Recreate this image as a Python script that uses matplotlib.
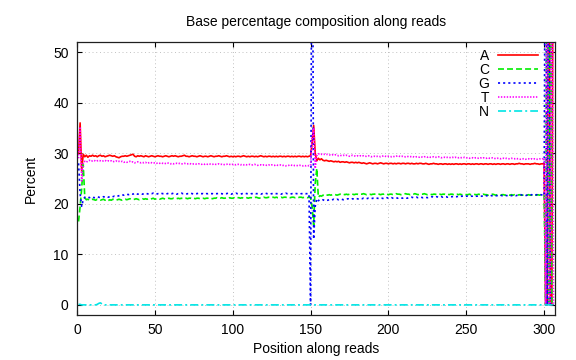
import matplotlib
matplotlib.use("Agg")
import matplotlib.pyplot as plt

plt.rcParams['font.family'] = ['Liberation Sans', 'DejaVu Sans']
plt.rcParams['lines.scale_dashes'] = False

# percent of each base at read positions 1..306 (read 1: 1-150, read 2: 151-300, index: 301-306)
A = [
    30.0, 36.0, 26.5, 29.8, 29.3, 29.6, 29.2, 29.5, 29.4, 29.6,
    29.4, 29.5, 29.3, 29.5, 29.6, 29.4, 29.5, 29.3, 29.4, 29.5,
    29.6, 29.5, 29.4, 29.5, 29.3, 29.2, 29.1, 29.3, 29.4, 29.4,
    29.5, 29.4, 29.5, 29.6, 29.7, 29.8, 29.4, 29.3, 29.5, 29.4,
    29.5, 29.4, 29.3, 29.5, 29.4, 29.3, 29.4, 29.5, 29.4, 29.3,
    29.4, 29.5, 29.4, 29.4, 29.3, 29.4, 29.5, 29.4, 29.3, 29.4,
    29.5, 29.4, 29.5, 29.4, 29.3, 29.4, 29.4, 29.5, 29.6, 29.4,
    29.4, 29.3, 29.4, 29.5, 29.4, 29.4, 29.3, 29.4, 29.5, 29.4,
    29.3, 29.4, 29.4, 29.3, 29.4, 29.5, 29.4, 29.3, 29.4, 29.4,
    29.5, 29.4, 29.3, 29.4, 29.4, 29.5, 29.4, 29.3, 29.4, 29.3,
    29.4, 29.3, 29.4, 29.4, 29.3, 29.4, 29.5, 29.4, 29.3, 29.4,
    29.3, 29.4, 29.4, 29.3, 29.4, 29.3, 29.4, 29.5, 29.4, 29.3,
    29.4, 29.3, 29.4, 29.4, 29.3, 29.4, 29.3, 29.4, 29.3, 29.4,
    29.4, 29.3, 29.4, 29.3, 29.4, 29.4, 29.3, 29.4, 29.3, 29.4,
    29.3, 29.4, 29.4, 29.3, 29.4, 29.3, 29.4, 29.3, 29.4, 29.5,
    32.0, 35.5, 30.0, 28.5, 29.0, 28.7, 28.9, 28.6, 28.5, 28.6,
    28.5, 28.4, 28.5, 28.4, 28.3, 28.4, 28.3, 28.4, 28.2, 28.3,
    28.3, 28.2, 28.3, 28.2, 28.1, 28.2, 28.2, 28.1, 28.2, 28.1,
    28.2, 28.1, 28.0, 28.1, 28.0, 27.9, 28.0, 28.1, 28.0, 27.9,
    28.0, 28.0, 27.9, 28.0, 28.1, 28.0, 27.9, 28.0, 28.0, 27.9,
    28.0, 28.0, 27.9, 28.0, 27.9, 28.0, 28.0, 27.9, 28.0, 28.0,
    27.9, 28.0, 28.0, 27.9, 28.0, 27.9, 27.9, 28.0, 27.9, 28.0,
    28.0, 27.9, 27.9, 28.0, 27.9, 27.8, 27.9, 27.9, 28.0, 27.9,
    27.9, 27.8, 27.9, 27.9, 27.8, 27.9, 27.9, 27.8, 27.9, 27.8,
    27.9, 27.8, 27.9, 27.9, 27.8, 27.9, 27.8, 27.9, 27.9, 27.8,
    27.9, 27.9, 27.8, 27.9, 27.8, 27.9, 27.9, 27.8, 27.9, 27.9,
    27.8, 27.9, 27.9, 27.8, 27.9, 27.9, 27.8, 27.9, 27.8, 27.9,
    27.9, 27.8, 27.9, 27.9, 27.8, 27.9, 27.9, 27.8, 27.9, 27.9,
    27.8, 27.9, 27.9, 28.0, 27.9, 27.9, 27.8, 27.9, 27.9, 27.9,
    27.8, 27.9, 27.9, 28.0, 27.9, 27.9, 27.8, 27.9, 27.9, 28.0,
    0.0, 0.0, 100.0, 0.0, 0.0, 100.0,
]

C = [
    16.5, 19.5, 23.0, 27.8, 21.2, 20.8, 20.9, 20.7, 20.8, 20.9,
    20.8, 20.7, 20.9, 20.8, 20.7, 20.8, 20.9, 20.7, 20.8, 20.6,
    20.8, 20.7, 20.9, 20.8, 20.7, 20.8, 20.9, 20.8, 20.7, 20.8,
    20.9, 20.8, 20.9, 21.0, 20.9, 20.8, 20.9, 21.0, 20.9, 20.8,
    20.9, 21.0, 20.9, 21.0, 20.9, 21.0, 20.9, 21.0, 21.1, 20.9,
    21.0, 21.0, 20.9, 21.0, 21.1, 21.0, 20.9, 21.0, 21.1, 21.0,
    21.0, 21.1, 21.0, 21.0, 21.1, 21.0, 21.1, 21.0, 21.0, 21.1,
    21.0, 21.1, 21.1, 21.0, 21.1, 21.0, 21.1, 21.1, 21.0, 21.1,
    21.1, 21.0, 21.1, 21.1, 21.2, 21.1, 21.0, 21.1, 21.1, 21.2,
    21.1, 21.1, 21.2, 21.1, 21.1, 21.2, 21.1, 21.2, 21.1, 21.1,
    21.2, 21.1, 21.2, 21.2, 21.1, 21.2, 21.1, 21.2, 21.2, 21.1,
    21.2, 21.2, 21.1, 21.2, 21.3, 21.2, 21.1, 21.2, 21.2, 21.3,
    21.2, 21.2, 21.3, 21.2, 21.2, 21.3, 21.2, 21.3, 21.2, 21.2,
    21.3, 21.2, 21.3, 21.3, 21.2, 21.3, 21.2, 21.3, 21.3, 21.2,
    21.3, 21.2, 21.3, 21.3, 21.2, 21.3, 21.3, 21.2, 21.3, 21.2,
    19.5, 15.8, 24.0, 27.0, 21.3, 21.6, 21.5, 21.7, 21.6, 21.8,
    21.7, 21.8, 21.7, 21.8, 21.9, 21.8, 21.7, 21.8, 21.9, 21.8,
    21.9, 21.8, 21.9, 21.8, 21.9, 22.0, 21.9, 21.8, 21.9, 21.9,
    21.8, 21.9, 21.9, 22.0, 21.9, 21.8, 21.9, 21.9, 21.8, 21.9,
    21.9, 22.0, 21.9, 21.9, 21.8, 21.9, 21.9, 22.0, 21.9, 21.8,
    21.9, 21.9, 21.8, 21.9, 22.0, 21.9, 21.9, 21.8, 21.9, 21.9,
    22.0, 21.9, 21.9, 21.8, 21.9, 21.9, 22.0, 21.9, 21.8, 21.9,
    21.9, 21.9, 22.0, 21.9, 21.8, 21.9, 21.9, 21.8, 21.9, 21.9,
    21.8, 21.9, 21.9, 21.8, 21.9, 21.9, 21.8, 21.9, 21.8, 21.9,
    21.9, 21.8, 21.9, 21.9, 21.8, 21.9, 21.8, 21.8, 21.9, 21.8,
    21.8, 21.9, 21.8, 21.8, 21.9, 21.8, 21.8, 21.9, 21.8, 21.8,
    21.9, 21.8, 21.8, 21.7, 21.8, 21.8, 21.9, 21.8, 21.7, 21.8,
    21.8, 21.7, 21.8, 21.8, 21.7, 21.8, 21.8, 21.7, 21.8, 21.7,
    21.8, 21.7, 21.7, 21.8, 21.7, 21.7, 21.8, 21.7, 21.7, 21.8,
    21.7, 21.7, 21.8, 21.7, 21.7, 21.8, 21.7, 21.8, 21.8, 21.9,
    0.0, 100.0, 0.0, 100.0, 0.0, 0.0,
]

G = [
    28.0, 22.0, 19.5, 20.8, 21.3, 21.2, 21.3, 21.2, 21.4, 21.3,
    21.2, 21.3, 21.4, 21.3, 21.2, 21.3, 21.4, 21.3, 21.4, 21.3,
    21.4, 21.3, 21.4, 21.5, 21.4, 21.5, 21.6, 21.7, 21.8, 21.7,
    21.8, 21.9, 21.8, 21.9, 22.0, 21.9, 22.1, 22.0, 21.9, 22.0,
    22.0, 21.9, 22.0, 22.1, 22.0, 21.9, 22.0, 22.0, 22.1, 22.0,
    21.9, 22.0, 22.0, 22.1, 22.0, 22.0, 21.9, 22.0, 22.1, 22.0,
    22.0, 22.1, 22.0, 21.9, 22.0, 22.0, 22.1, 22.0, 22.0, 21.9,
    22.0, 22.0, 22.1, 22.0, 21.9, 22.0, 22.0, 22.1, 22.0, 22.0,
    22.0, 21.9, 22.0, 22.0, 22.1, 22.0, 22.0, 21.9, 22.0, 22.0,
    22.1, 22.0, 22.0, 21.9, 22.0, 22.0, 22.1, 22.0, 21.9, 22.0,
    22.0, 22.1, 22.0, 22.0, 21.9, 22.0, 22.0, 22.1, 22.0, 22.0,
    21.9, 22.0, 22.0, 22.1, 22.0, 22.0, 22.0, 21.9, 22.0, 22.0,
    22.1, 22.0, 22.0, 21.9, 22.0, 22.0, 22.1, 22.0, 22.0, 22.0,
    21.9, 22.0, 22.0, 22.1, 22.0, 22.0, 21.9, 22.0, 22.0, 22.1,
    22.0, 22.0, 21.9, 22.0, 22.0, 22.1, 22.0, 22.0, 22.0, 0.0,
    100.0, 13.0, 19.5, 21.0, 20.6, 20.8, 20.7, 20.8, 20.6, 20.7,
    20.7, 20.8, 20.7, 20.8, 20.9, 20.8, 20.9, 20.8, 20.9, 20.9,
    20.8, 20.9, 20.9, 21.0, 20.9, 20.9, 21.0, 20.9, 21.0, 21.0,
    20.9, 21.0, 21.0, 21.1, 21.0, 21.0, 21.1, 21.0, 21.0, 21.1,
    21.0, 21.1, 21.1, 21.0, 21.1, 21.1, 21.0, 21.1, 21.2, 21.1,
    21.1, 21.2, 21.1, 21.1, 21.2, 21.1, 21.2, 21.2, 21.1, 21.2,
    21.2, 21.1, 21.2, 21.2, 21.3, 21.2, 21.2, 21.3, 21.2, 21.2,
    21.3, 21.2, 21.3, 21.3, 21.2, 21.3, 21.3, 21.4, 21.3, 21.3,
    21.4, 21.3, 21.3, 21.4, 21.3, 21.4, 21.4, 21.3, 21.4, 21.4,
    21.4, 21.5, 21.4, 21.4, 21.5, 21.4, 21.5, 21.5, 21.4, 21.5,
    21.5, 21.4, 21.5, 21.5, 21.6, 21.5, 21.5, 21.6, 21.5, 21.5,
    21.6, 21.5, 21.6, 21.6, 21.5, 21.6, 21.6, 21.7, 21.6, 21.6,
    21.6, 21.7, 21.6, 21.6, 21.7, 21.6, 21.7, 21.7, 21.6, 21.7,
    21.7, 21.6, 21.7, 21.7, 21.8, 21.7, 21.7, 21.6, 21.7, 21.7,
    21.7, 21.8, 21.7, 21.7, 21.8, 21.7, 21.7, 21.8, 21.7, 21.6,
    100.0, 0.0, 100.0, 0.0, 0.0, 0.0,
]

T = [
    29.0, 35.2, 24.5, 28.0, 28.4, 28.2, 28.5, 28.6, 28.4, 28.5,
    28.6, 28.4, 28.5, 28.6, 28.5, 28.4, 28.5, 28.6, 28.4, 28.5,
    28.4, 28.5, 28.3, 28.4, 28.5, 28.3, 28.4, 28.3, 28.4, 28.2,
    28.3, 28.2, 28.3, 28.4, 28.2, 28.3, 28.1, 28.2, 28.3, 28.2,
    28.1, 28.2, 28.1, 28.2, 28.0, 28.1, 28.2, 28.1, 28.0, 28.1,
    28.0, 28.1, 28.0, 28.1, 28.0, 27.9, 28.0, 28.1, 28.0, 27.9,
    28.0, 27.9, 28.0, 28.0, 27.9, 28.0, 27.9, 27.9, 28.0, 27.9,
    27.9, 28.0, 27.9, 27.8, 27.9, 27.9, 27.8, 27.9, 27.9, 27.8,
    27.9, 27.8, 27.9, 27.8, 27.9, 27.8, 27.8, 27.9, 27.8, 27.8,
    27.9, 27.8, 27.8, 27.7, 27.8, 27.8, 27.9, 27.8, 27.7, 27.8,
    27.8, 27.7, 27.8, 27.8, 27.7, 27.8, 27.7, 27.8, 27.7, 27.7,
    27.8, 27.7, 27.7, 27.8, 27.7, 27.6, 27.7, 27.7, 27.6, 27.7,
    27.7, 27.6, 27.7, 27.6, 27.7, 27.6, 27.6, 27.7, 27.6, 27.6,
    27.7, 27.6, 27.6, 27.5, 27.6, 27.6, 27.7, 27.6, 27.5, 27.6,
    27.6, 27.5, 27.6, 27.6, 27.5, 27.6, 27.5, 27.6, 27.5, 27.6,
    33.0, 35.0, 27.0, 29.5, 29.9, 29.7, 29.8, 29.7, 29.8, 29.7,
    29.8, 29.7, 29.6, 29.7, 29.6, 29.7, 29.6, 29.5, 29.6, 29.5,
    29.6, 29.5, 29.6, 29.5, 29.4, 29.5, 29.6, 29.5, 29.4, 29.5,
    29.4, 29.5, 29.4, 29.5, 29.4, 29.4, 29.5, 29.4, 29.3, 29.4,
    29.4, 29.3, 29.4, 29.4, 29.3, 29.4, 29.5, 29.4, 29.3, 29.4,
    29.4, 29.3, 29.4, 29.3, 29.4, 29.5, 29.4, 29.3, 29.4, 29.3,
    29.3, 29.4, 29.3, 29.3, 29.4, 29.3, 29.2, 29.3, 29.3, 29.2,
    29.3, 29.2, 29.3, 29.3, 29.2, 29.3, 29.2, 29.2, 29.3, 29.2,
    29.2, 29.3, 29.2, 29.1, 29.2, 29.2, 29.1, 29.2, 29.2, 29.1,
    29.2, 29.1, 29.2, 29.1, 29.1, 29.2, 29.1, 29.1, 29.2, 29.1,
    29.1, 29.0, 29.1, 29.1, 29.0, 29.1, 29.1, 29.0, 29.1, 29.0,
    29.1, 29.0, 29.0, 29.1, 29.0, 29.0, 29.1, 29.0, 28.9, 29.0,
    29.0, 28.9, 29.0, 29.0, 28.9, 29.0, 28.9, 28.9, 29.0, 28.9,
    28.9, 29.0, 28.9, 28.9, 28.8, 28.9, 28.9, 28.8, 28.9, 28.9,
    28.8, 28.9, 28.8, 28.9, 28.8, 28.8, 28.9, 28.8, 28.9, 29.0,
    0.0, 100.0, 0.0, 0.0, 100.0, 0.0,
]

N = [
    0.1, 0.1, 0.0, 0.0, 0.0, 0.0, 0.0, 0.0, 0.0, 0.0,
    0.0, 0.0, 0.1, 0.3, 0.4, 0.2, 0.0, 0.0, 0.0, 0.0,
    0.0, 0.0, 0.0, 0.0, 0.0, 0.0, 0.0, 0.0, 0.0, 0.0,
    0.0, 0.0, 0.0, 0.0, 0.0, 0.0, 0.0, 0.0, 0.0, 0.0,
    0.0, 0.0, 0.0, 0.0, 0.0, 0.0, 0.0, 0.0, 0.0, 0.0,
    0.0, 0.0, 0.0, 0.0, 0.0, 0.0, 0.0, 0.0, 0.0, 0.0,
    0.0, 0.0, 0.0, 0.0, 0.0, 0.0, 0.0, 0.0, 0.0, 0.0,
    0.0, 0.0, 0.0, 0.0, 0.0, 0.0, 0.0, 0.0, 0.0, 0.0,
    0.0, 0.0, 0.0, 0.0, 0.0, 0.0, 0.0, 0.0, 0.0, 0.0,
    0.0, 0.0, 0.0, 0.0, 0.0, 0.0, 0.0, 0.0, 0.0, 0.0,
    0.0, 0.0, 0.0, 0.0, 0.0, 0.0, 0.0, 0.0, 0.0, 0.0,
    0.0, 0.0, 0.0, 0.0, 0.0, 0.0, 0.0, 0.0, 0.0, 0.0,
    0.0, 0.0, 0.0, 0.0, 0.0, 0.0, 0.0, 0.0, 0.0, 0.0,
    0.0, 0.0, 0.0, 0.0, 0.0, 0.0, 0.0, 0.0, 0.0, 0.0,
    0.0, 0.0, 0.0, 0.0, 0.0, 0.0, 0.0, 0.0, 0.0, 0.0,
    0.0, 0.0, 0.0, 0.0, 0.0, 0.0, 0.0, 0.0, 0.0, 0.0,
    0.0, 0.0, 0.0, 0.0, 0.0, 0.0, 0.0, 0.0, 0.0, 0.0,
    0.0, 0.0, 0.0, 0.0, 0.0, 0.0, 0.0, 0.0, 0.0, 0.0,
    0.0, 0.0, 0.0, 0.0, 0.0, 0.0, 0.0, 0.0, 0.0, 0.0,
    0.0, 0.0, 0.0, 0.0, 0.0, 0.0, 0.0, 0.0, 0.0, 0.0,
    0.0, 0.0, 0.0, 0.0, 0.0, 0.0, 0.0, 0.0, 0.0, 0.0,
    0.0, 0.0, 0.0, 0.0, 0.0, 0.0, 0.0, 0.0, 0.0, 0.0,
    0.0, 0.0, 0.0, 0.0, 0.0, 0.0, 0.0, 0.0, 0.0, 0.0,
    0.0, 0.0, 0.0, 0.0, 0.0, 0.0, 0.0, 0.0, 0.0, 0.0,
    0.0, 0.0, 0.0, 0.0, 0.0, 0.0, 0.0, 0.0, 0.0, 0.0,
    0.0, 0.0, 0.0, 0.0, 0.0, 0.0, 0.0, 0.0, 0.0, 0.0,
    0.0, 0.0, 0.0, 0.0, 0.0, 0.0, 0.0, 0.0, 0.0, 0.0,
    0.0, 0.0, 0.0, 0.0, 0.0, 0.0, 0.0, 0.0, 0.0, 0.0,
    0.0, 0.0, 0.0, 0.0, 0.0, 0.0, 0.0, 0.0, 0.0, 0.0,
    0.0, 0.0, 0.0, 0.0, 0.0, 0.0, 0.0, 0.0, 0.0, 0.0,
    0.0, 0.0, 0.0, 0.0, 0.0, 0.0,
]

positions = list(range(1, len(A) + 1))
xticks = [0, 50, 100, 150, 200, 250, 300]
yticks = [0, 10, 20, 30, 40, 50]

fs = 10
fig = plt.figure(figsize=(5.76, 3.6), dpi=100)
ax = fig.add_axes([77/576, 45/360, 478/576, 273/360])

ax.plot(positions, A, color='#ff0000', lw=1.2, label='A')
ax.plot(positions, C, color='#00ee00', lw=1.2, linestyle=(0, (4.3, 2.2)), label='C')
ax.plot(positions, G, color='#0000ff', lw=1.2, linestyle=(0, (1.5, 2.2)), label='G')
ax.plot(positions, T, color='#ff00ff', lw=1.2, linestyle=(0, (1.0, 1.1)), label='T')
ax.plot(positions, N, color='#00e5e5', lw=1.2, linestyle=(0, (5.8, 2.2, 1.4, 2.2)), label='N')

ax.set_xlim(0, 307)
ax.set_ylim(-2, 52)
ax.set_xticks(xticks)
ax.set_yticks(yticks)
ax.grid(True, color='#b8b8b8', lw=0.6, linestyle=(0, (0.7, 2.0)))
ax.set_axisbelow(True)
ax.tick_params(direction='in', length=3.6, width=0.8, top=True, right=True,
               labelsize=fs, pad=6)
for s in ax.spines.values():
    s.set_linewidth(0.9)
    s.set_color('#202020')

ax.set_title('Base percentage composition along reads', fontsize=fs, pad=11.7)
ax.set_xlabel('Position along reads', fontsize=fs)
ax.set_ylabel('Percent', fontsize=fs)
ax.xaxis.set_label_coords(0.5, -0.1)
ax.yaxis.set_label_coords(-0.082, 0.5)

ax.legend(loc='upper right', bbox_to_anchor=(538.3/576, (360 - 48.5)/360),
          bbox_transform=fig.transFigure, frameon=False, markerfirst=False,
          fontsize=fs, handlelength=2.9, handletextpad=0.65,
          labelspacing=0.0, borderpad=0, borderaxespad=0)

fig.savefig('out.png', dpi=100)
